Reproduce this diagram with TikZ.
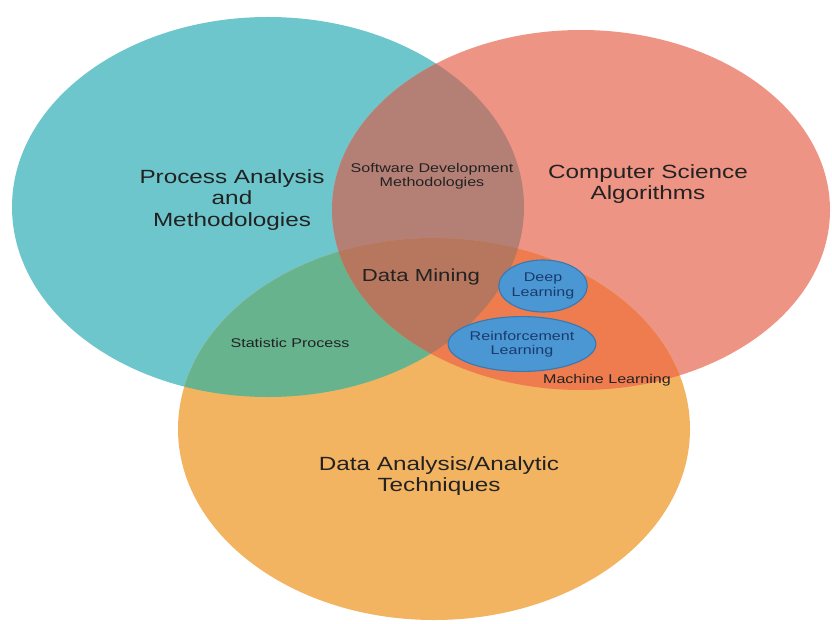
\documentclass[tikz,border=0pt]{standalone}
\usepackage{fontspec}
\setmainfont[FakeStretch=1.27]{Liberation Sans}
\usetikzlibrary{shapes.geometric, positioning}
\usepackage{xcolor}
\definecolor{VennTeal}{HTML}{6DC6CB}
\definecolor{VennSalmon}{HTML}{EE9484}
\definecolor{VennOrange}{HTML}{F3B462}
\definecolor{VennTealSalmon}{HTML}{B47F75}
\definecolor{VennTealOrange}{HTML}{66B38E}
\definecolor{VennSalmonOrange}{HTML}{EE7C4E}
\definecolor{VennCore}{HTML}{B7775F}
\definecolor{VennBlue}{HTML}{4A97D4}
\definecolor{VennBlueDark}{HTML}{3A78B0}
\definecolor{VennText}{HTML}{222222}
\definecolor{VennNavy}{HTML}{1B3A6C}

% the three sets (coordinates in pixels, y downwards)
\def\processset{(268,207) ellipse [x radius=256, y radius=190]}
\def\algoset{(581,210) ellipse [x radius=249, y radius=180]}
\def\analysisset{(434,429) ellipse [x radius=256, y radius=191]}

\tikzset{
    % Labels of the three sets
    biglabel/.style={
        align=center,
        text=VennText,
        font=\fontsize{13.6}{15.3}\selectfont
    },
    midlabel/.style={
        align=center,
        text=VennText,
        font=\fontsize{12.4}{14}\selectfont
    },
    smalllabel/.style={
        align=center,
        text=VennText,
        font=\fontsize{9}{10.3}\selectfont
    },
    % Blue sub-topics
    subtopic/.style={
        ellipse,
        draw=VennBlueDark,
        fill=VennBlue,
        line width=0.8pt,
        inner sep=0pt,
        align=center,
        text=VennNavy,
        font=\fontsize{9}{10.3}\selectfont
    }
}

\begin{document}
\begin{tikzpicture}[x=0.025cm, y=-0.025cm]
    \useasboundingbox (0,0) rectangle (832,623);

    % plain sets
    \fill[VennTeal] \processset;
    \fill[VennSalmon] \algoset;
    \fill[VennOrange] \analysisset;

    % pairwise overlaps
    \begin{scope}
        \clip \processset;
        \fill[VennTealSalmon] \algoset;
        \fill[VennTealOrange] \analysisset;
    \end{scope}
    \begin{scope}
        \clip \algoset;
        \fill[VennSalmonOrange] \analysisset;
    \end{scope}

    % all three
    \begin{scope}
        \clip \processset;
        \clip \algoset;
        \fill[VennCore] \analysisset;
    \end{scope}

    \node[biglabel] (process) at (232,200) {Process Analysis\\and\\Methodologies};
    \node[biglabel] (algo) at (648,184) {Computer Science\\Algorithms};
    \node[biglabel] (analysis) at (439,476) {Data Analysis/Analytic\\Techniques};

    \node[smalllabel] (software) at (432,176) {Software Development\\Methodologies};
    \node[midlabel] (mining) at (421,277) {Data Mining};
    \node[smalllabel] (stats) at (290,343) {Statistic Process};
    \node[smalllabel] (ml) at (607,380) {Machine Learning};

    \node[subtopic, minimum width=1.75cm, minimum height=1.3cm] (deep) at (543,286) {Deep\\Learning};
    \node[subtopic, minimum width=2.95cm, minimum height=1.37cm] (reinf) at (522,344) {Reinforcement\\Learning};
\end{tikzpicture}
\end{document}
